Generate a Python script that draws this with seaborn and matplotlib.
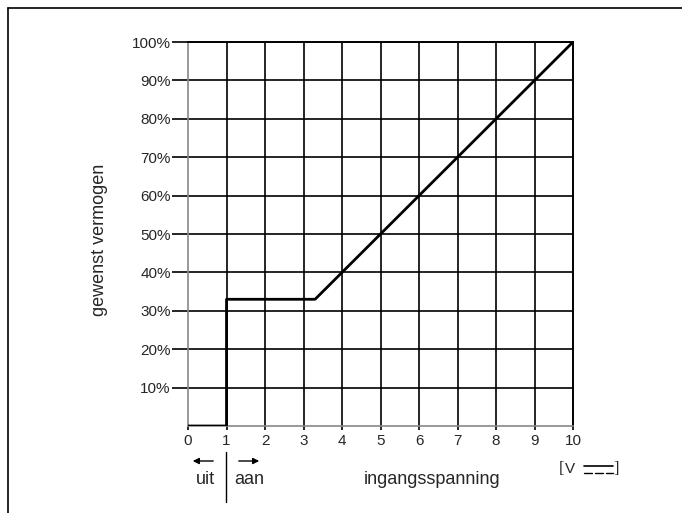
import matplotlib
matplotlib.use("Agg")
import matplotlib.pyplot as plt
import numpy as np
import pandas as pd
import seaborn as sns

sns.set_theme(style="white")
plt.rcParams["font.family"] = ["Liberation Sans", "DejaVu Sans"]

# curve: input voltage [V] vs desired power [%]
spanning = [0, 1, 1, 3.3, 10]
vermogen = [0, 0, 33, 33, 100]
x_ticks = list(range(0, 11))
y_ticks = list(range(10, 101, 10))
y_labels = [f"{v}%" for v in y_ticks]

df = pd.DataFrame({"spanning": spanning, "vermogen": vermogen})

fig = plt.figure(figsize=(6.82, 5.13), dpi=100)
ax = fig.add_axes([0.2757, 0.1696, 0.5645, 0.7485])

for v in x_ticks[1:]:
    ax.axvline(v, color="black", lw=1.2, zorder=1)
for v in y_ticks:
    ax.axhline(v, color="black", lw=1.2, zorder=1)

sns.lineplot(data=df, x="spanning", y="vermogen", sort=False, estimator=None,
             color="black", lw=2, ax=ax, zorder=3)

ax.set_xlim(0, 10)
ax.set_ylim(0, 100)
ax.set_xticks(x_ticks)
ax.set_xticklabels([str(v) for v in x_ticks], fontsize=11)
ax.set_yticks(y_ticks)
ax.set_yticklabels(y_labels, fontsize=11)
ax.tick_params(axis="y", length=11.5, width=1.2, color="black", pad=1, direction="out", left=True)
ax.tick_params(axis="x", length=3, width=1.2, color="black", pad=3, direction="out", bottom=True)
ax.set_xlabel("")
ax.set_ylabel("")

for side in ["left", "bottom"]:
    ax.spines[side].set_color("#888888")
    ax.spines[side].set_linewidth(1.2)
for side in ["right", "top"]:
    ax.spines[side].set_color("black")
    ax.spines[side].set_linewidth(1.4)

fig.text(100 / 682, 1 - 240 / 513, "gewenst vermogen", rotation=90,
         ha="center", va="center", fontsize=13)

# bottom annotations (figure pixel positions)
def fx(px):
    return px / 682

def fy(py):
    return 1 - py / 513

fig.text(fx(205), fy(479), "uit", ha="center", va="center", fontsize=13)
fig.text(fx(249), fy(479), "aan", ha="center", va="center", fontsize=13)
fig.text(fx(432), fy(479), "ingangsspanning", ha="center", va="center", fontsize=13)
fig.text(fx(559), fy(469), "[", ha="left", va="center", fontsize=12,
         family=["Liberation Serif", "DejaVu Serif"])
fig.text(fx(565), fy(469), "V", ha="left", va="center", fontsize=11)
fig.text(fx(619), fy(469), "]", ha="right", va="center", fontsize=12,
         family=["Liberation Serif", "DejaVu Serif"])

# DC symbol
fig.add_artist(plt.Line2D([fx(584), fx(613)], [fy(466), fy(466)], color="black", lw=1.2))
for a, b in [(584, 592), (595, 603), (606, 613)]:
    fig.add_artist(plt.Line2D([fx(a), fx(b)], [fy(473), fy(473)], color="black", lw=1.0))

# uit / aan arrows and separator
fig.add_artist(plt.Line2D([fx(226), fx(226)], [fy(452), fy(502)], color="black", lw=1.0))
ax_fig = fig.add_axes([0, 0, 1, 1], facecolor="none")
ax_fig.set_axis_off()
ax_fig.set_xlim(0, 1)
ax_fig.set_ylim(0, 1)
ax_fig.annotate("", xy=(fx(190), fy(461)), xytext=(fx(216), fy(461)),
                arrowprops=dict(arrowstyle="-|>", color="black", lw=1.0, mutation_scale=9))
ax_fig.annotate("", xy=(fx(262), fy(461)), xytext=(fx(236), fy(461)),
                arrowprops=dict(arrowstyle="-|>", color="black", lw=1.0, mutation_scale=9))

# outer frame (top and left)
fig.add_artist(plt.Line2D([fx(8), 1], [fy(8), fy(8)], color="black", lw=1.2))
fig.add_artist(plt.Line2D([fx(8), fx(8)], [fy(8), 0], color="black", lw=1.2))

fig.savefig("out.png", dpi=100)
